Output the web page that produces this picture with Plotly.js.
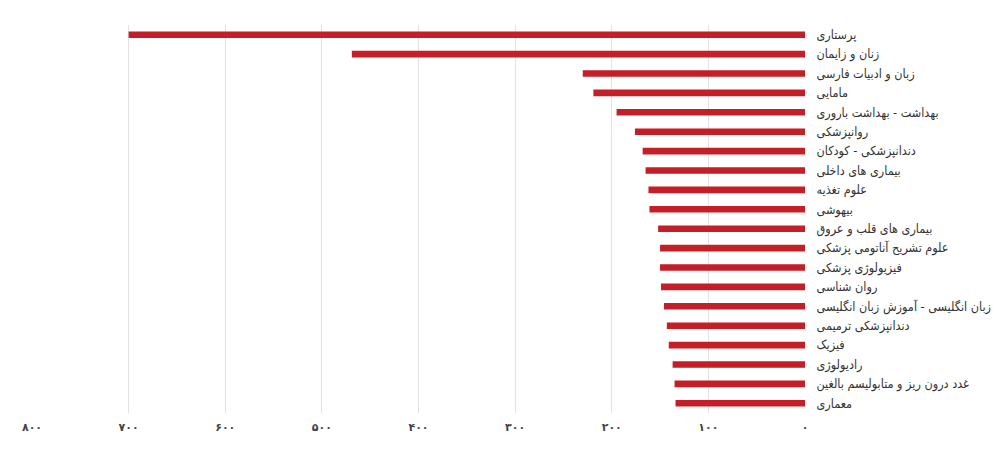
<!DOCTYPE html>
<html>
<head>
<meta charset="utf-8">
<script src="https://cdn.plot.ly/plotly-3.0.1.min.js"></script>
<style>
  html, body { margin: 0; padding: 0; background: #ffffff; }
  #chart { width: 1004px; height: 460px; }
</style>
</head>
<body>
<div id="chart"></div>
<script>
const categories = [
  "پرستاری",
  "زنان و زایمان",
  "زبان و ادبیات فارسی",
  "مامایی",
  "بهداشت - بهداشت باروری",
  "روانپزشکی",
  "دندانپزشکی - کودکان",
  "بیماری های داخلی",
  "علوم تغذیه",
  "بیهوشی",
  "بیماری های قلب و عروق",
  "علوم تشریح آناتومی پزشکی",
  "فیزیولوژی پزشکی",
  "روان شناسی",
  "زبان انگلیسی - آموزش زبان انگلیسی",
  "دندانپزشکی ترمیمی",
  "فیزیک",
  "رادیولوژی",
  "غدد درون ریز و متابولیسم بالغین",
  "معماری"
];
const values = [700, 469, 230, 219, 195, 176, 168, 165, 162, 161, 152, 150, 150, 149, 146, 143, 141, 137, 135, 134];
const tickValues = [800, 700, 600, 500, 400, 300, 200, 100, 0];
const tickLabels = ["۸۰۰", "۷۰۰", "۶۰۰", "۵۰۰", "۴۰۰", "۳۰۰", "۲۰۰", "۱۰۰", "۰"];

const trace = {
  type: "bar",
  orientation: "h",
  x: values,
  y: categories,
  width: 0.34,
  marker: { color: "#c41e26" },
  hoverinfo: "x+y"
};

const layout = {
  width: 1004,
  height: 460,
  margin: { l: 32, r: 199, t: 25, b: 47 },
  paper_bgcolor: "#ffffff",
  plot_bgcolor: "#ffffff",
  showlegend: false,
  xaxis: {
    range: [800, 0],
    tickvals: tickValues,
    ticktext: tickLabels,
    showgrid: true,
    gridcolor: "#e2e2e2",
    gridwidth: 1,
    zeroline: false,
    showline: false,
    ticks: "outside",
    ticklen: 4,
    tickcolor: "rgba(0,0,0,0)",
    tickfont: { family: "DejaVu Sans", size: 11, color: "#444", weight: "bold" },
    fixedrange: true
  },
  yaxis: {
    side: "right",
    autorange: "reversed",
    type: "category",
    showgrid: false,
    zeroline: false,
    showline: false,
    ticks: "outside",
    ticklen: 8,
    tickcolor: "rgba(0,0,0,0)",
    tickfont: { family: "DejaVu Sans Condensed, DejaVu Sans", size: 12.5, color: "#333" },
    fixedrange: true
  }
};

Plotly.newPlot("chart", [trace], layout, { displayModeBar: false, staticPlot: true });
</script>
</body>
</html>
